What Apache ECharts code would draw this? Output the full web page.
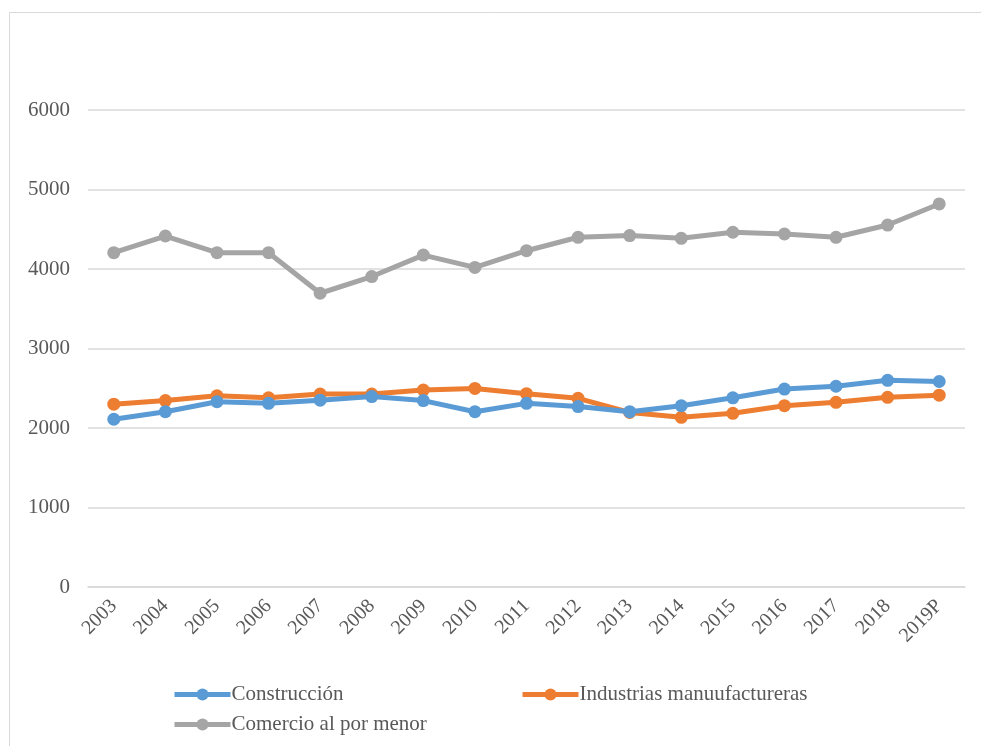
<!DOCTYPE html>
<html>
<head>
<meta charset="utf-8">
<script src="https://cdn.jsdelivr.net/npm/echarts@6/dist/echarts.min.js"></script>
<style>html,body{margin:0;padding:0;background:#fff}#c{width:981px;height:746px}</style>
</head>
<body>
<div id="c"></div>
<script>
const categories = ['2003','2004','2005','2006','2007','2008','2009','2010','2011','2012','2013','2014','2015','2016','2017','2018','2019P'];
const construccion = [2110,2205,2330,2310,2350,2395,2345,2205,2310,2270,2205,2280,2380,2490,2525,2600,2585];
const industrias = [2300,2345,2405,2380,2428,2428,2478,2498,2432,2373,2195,2134,2185,2281,2323,2386,2413];
const comercio = [4205,4415,4205,4205,3695,3905,4175,4020,4230,4399,4420,4386,4462,4440,4399,4553,4818];
const yTicks = {min:0, max:6000, interval:1000};
const names = ['Construcción','Industrias manuufactureras','Comercio al por menor'];
const colors = ['#5b9bd5','#ed7d31','#a5a5a5'];

const chart = echarts.init(document.getElementById('c'));
const font = '"Liberation Serif","Times New Roman",serif';
const legendBase = {padding:0, itemWidth:56, itemHeight:15, itemGap:0,
  lineStyle:{width:5}, textStyle:{fontFamily:font,fontSize:21,color:'#595959',padding:[0,0,0,-4]}};
chart.setOption({
  animation:false,
  graphic:[{type:'rect', shape:{x:9.5,y:12.5,width:1000,height:800}, style:{fill:'none',stroke:'#d9d9d9',lineWidth:1}}],
  grid:{left:88,right:16,top:110,bottom:159},
  legend:[
    Object.assign({}, legendBase, {data:[names[0]], left:172, top:684}),
    Object.assign({}, legendBase, {data:[names[1]], left:520, top:684}),
    Object.assign({}, legendBase, {data:[names[2]], left:172, top:714})
  ],
  xAxis:{type:'category', data:categories, boundaryGap:true,
    axisLine:{lineStyle:{color:'#d9d9d9',width:1.5}}, axisTick:{show:false},
    axisLabel:{rotate:45, fontFamily:font, fontSize:20, color:'#595959', margin:16}},
  yAxis:{type:'value', min:yTicks.min, max:yTicks.max, interval:yTicks.interval,
    axisLine:{show:false}, axisTick:{show:false},
    splitLine:{lineStyle:{color:'#d9d9d9',width:1.5}},
    axisLabel:{fontFamily:font, fontSize:21, color:'#595959', margin:18, formatter:v=>String(v)}},
  series:[construccion, industrias, comercio].map((d,i)=>({
    name:names[i], type:'line', data:d, symbol:'circle', symbolSize:13,
    lineStyle:{color:colors[i], width:5}, itemStyle:{color:colors[i]}, z:3-i
  }))
});
</script>
</body>
</html>
